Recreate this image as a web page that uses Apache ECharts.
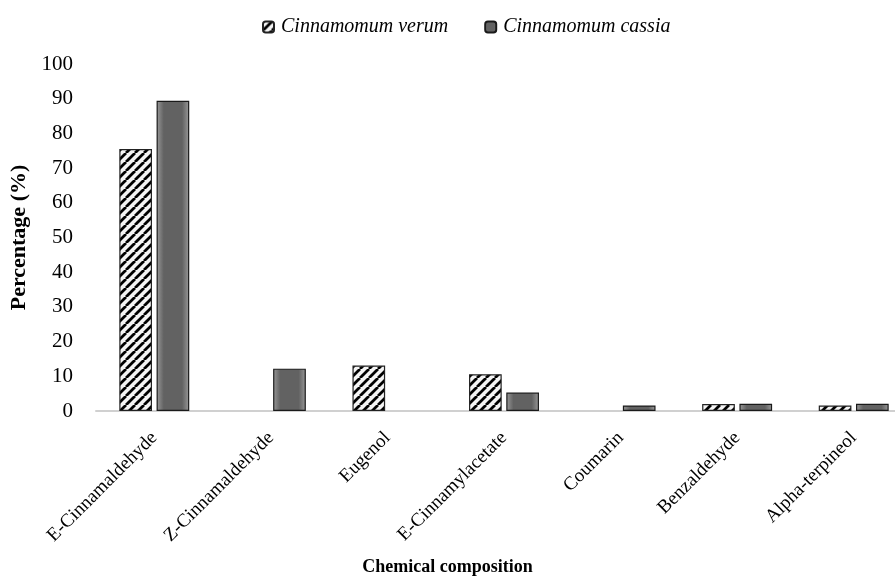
<!DOCTYPE html>
<html>
<head>
<meta charset="utf-8">
<script src="https://cdn.jsdelivr.net/npm/echarts@6/dist/echarts.min.js"></script>
<style>html,body{margin:0;padding:0;background:#fff}#c{width:895px;height:578px}</style>
</head>
<body>
<div id="c"></div>
<script>
const categories = ['E-Cinnamaldehyde','Z-Cinnamaldehyde','Eugenol','E-Cinnamylacetate','Coumarin','Benzaldehyde','Alpha-terpineol'];
const verum = [75.5, 0, 13.1, 10.6, 0, 2.0, 1.6];
const cassia = [89.4, 12.2, 0, 5.3, 1.6, 2.1, 2.1];
const seriesNames = ['Cinnamomum verum', 'Cinnamomum cassia'];
const yTicks = {min: 0, max: 100, interval: 10};

function hatch() {
  const s = 9;
  const cv = document.createElement('canvas');
  cv.width = s; cv.height = s;
  const g = cv.getContext('2d');
  g.fillStyle = '#f4f4f4';
  g.fillRect(0, 0, s, s);
  g.strokeStyle = '#000';
  g.lineWidth = 2.8;
  g.beginPath();
  for (let k = -1; k <= 1; k++) {
    g.moveTo(k * s, s);
    g.lineTo(k * s + s, 0);
  }
  g.stroke();
  return cv;
}
const grayGrad = {
  type: 'linear', x: 0, y: 0, x2: 1, y2: 0,
  colorStops: [
    {offset: 0, color: '#9a9a9a'},
    {offset: 0.22, color: '#626262'},
    {offset: 0.78, color: '#626262'},
    {offset: 1, color: '#9a9a9a'}
  ]
};
const serif = '"Liberation Serif", "Times New Roman", serif';
const nz = a => a.map(v => v === 0 ? null : v);

const chart = echarts.init(document.getElementById('c'));
chart.setOption({
  animation: false,
  backgroundColor: '#fff',
  textStyle: {fontFamily: serif},
  title: {
    text: 'Chemical composition',
    left: 'center', top: 553,
    textStyle: {fontFamily: serif, fontWeight: 'bold', fontSize: 18, color: '#000'}
  },
  legend: {
    top: 12, left: 257,
    itemWidth: 11, itemHeight: 11, itemGap: 36,
    textStyle: {fontFamily: serif, fontStyle: 'italic', fontSize: 20, color: '#000', padding: [0,0,0,2]},
    data: seriesNames
  },
  grid: {left: 96, width: 816, top: 64, bottom: 167, outerBoundsMode: 'none', containLabel: false},
  xAxis: {
    type: 'category',
    data: categories,
    axisLine: {show: true, lineStyle: {color: '#d0d0d0', width: 2}},
    axisTick: {show: false},
    axisLabel: {rotate: 45, interval: 0, fontFamily: serif, fontSize: 19, color: '#000', margin: 24}
  },
  yAxis: {
    type: 'value',
    min: yTicks.min, max: yTicks.max, interval: yTicks.interval,
    name: 'Percentage (%)',
    nameLocation: 'middle', nameGap: 64,
    nameTextStyle: {fontFamily: serif, fontWeight: 'bold', fontSize: 22, color: '#000'},
    axisLine: {show: false},
    axisTick: {show: false},
    splitLine: {show: false},
    axisLabel: {fontFamily: serif, fontSize: 21, color: '#000', margin: 23}
  },
  series: [
    {
      name: seriesNames[0], type: 'bar', data: nz(verum),
      barCategoryGap: '40%', barGap: '14%',
      itemStyle: {color: {image: hatch(), repeat: 'repeat'}, borderColor: '#222', borderWidth: 1.2}
    },
    {
      name: seriesNames[1], type: 'bar', data: nz(cassia),
      itemStyle: {color: grayGrad, borderColor: '#1a1a1a', borderWidth: 1.2}
    }
  ]
});
</script>
</body>
</html>
